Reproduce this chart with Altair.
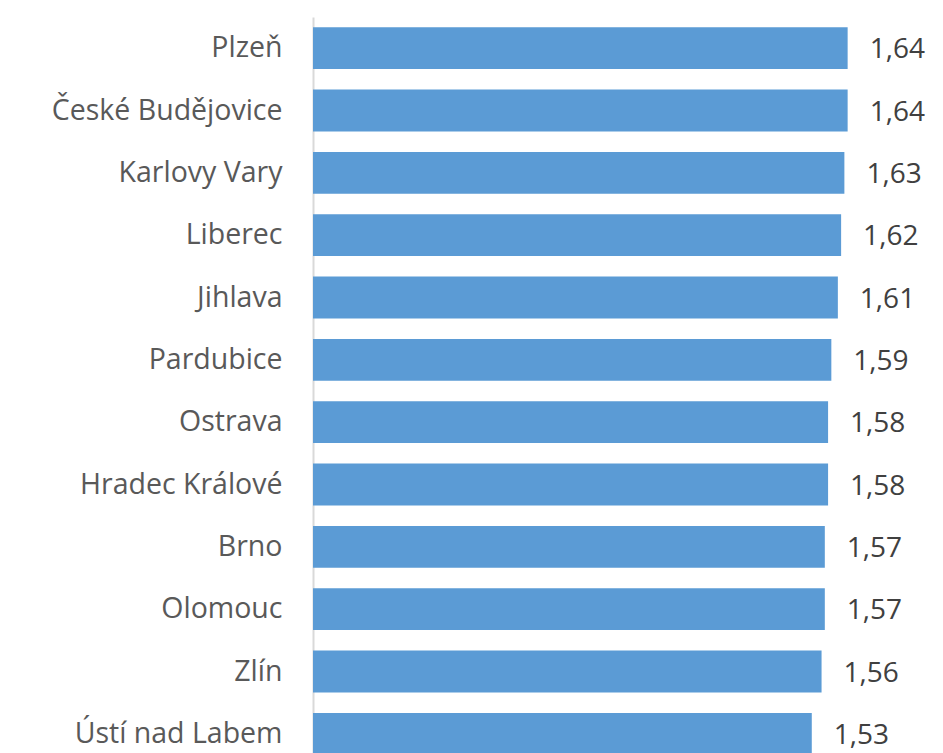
import altair as alt
import pandas as pd

cities = ["Plzeň", "České Budějovice", "Karlovy Vary", "Liberec", "Jihlava",
          "Pardubice", "Ostrava", "Hradec Králové", "Brno", "Olomouc", "Zlín",
          "Ústí nad Labem"]
values = [1.64, 1.64, 1.63, 1.62, 1.61, 1.59, 1.58, 1.58, 1.57, 1.57, 1.56, 1.53]

df = pd.DataFrame({"city": cities, "value": values})

FONT = "Open Sans"
W, H = 600, 745
y_enc = alt.Y("city:N", sort=cities,
              scale=alt.Scale(range=[0, 748], paddingInner=0.33, paddingOuter=0.165),
              axis=alt.Axis(title=None, ticks=False, domain=True, domainColor="#d9d9d9",
                            domainWidth=2, labelFont=FONT, labelFontSize=28.5,
                            labelColor="#595959", labelPadding=31, labelLimit=400))
x_enc = alt.X("value:Q", scale=alt.Scale(domain=[0, 600 / 326]), axis=None)

base = alt.Chart(df)
bars = base.mark_bar(color="#5B9BD5").encode(x=x_enc, y=y_enc)
text = base.transform_calculate(
    lab="replace(format(datum.value, '.2f'), '.', ',')"
).mark_text(align="left", baseline="middle", dx=22, dy=2, font=FONT, fontSize=28,
            color="#404040").encode(x=x_enc, y=y_enc, text="lab:N")

chart = (bars + text).properties(
    width=W, height=H,
    autosize=alt.AutoSizeParams(type="none"),
    padding={"left": 305, "top": 9, "right": 22, "bottom": 0},
).configure_view(stroke=None)

chart.save("out.html", embed_options={"renderer": "svg", "actions": False})
